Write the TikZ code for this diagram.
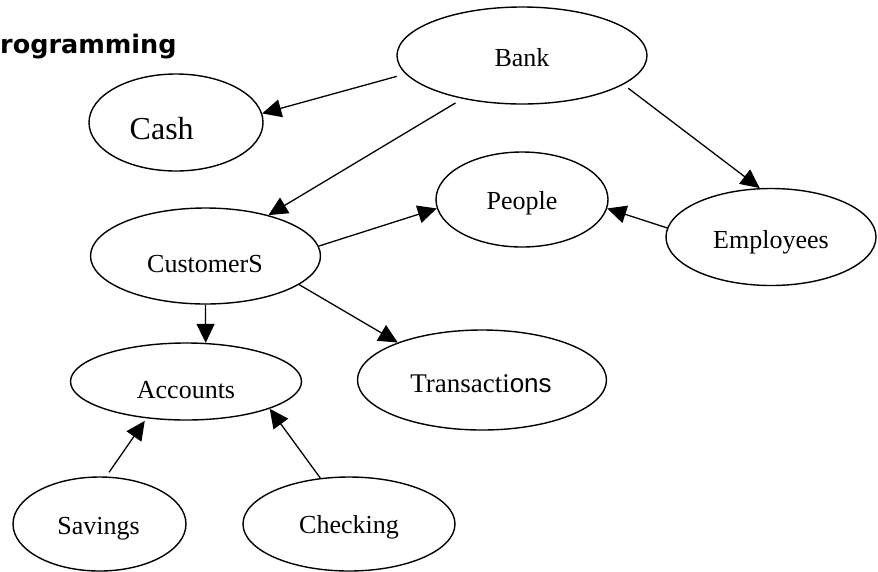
\documentclass[tikz,border=0pt]{standalone}
\usepackage{fontspec}
\setmainfont{Liberation Serif}
\newfontfamily\labelsans{Liberation Sans}
\newfontfamily\headfont{DejaVu Sans}
\usetikzlibrary{shapes.geometric,arrows.meta}

\begin{document}
\begin{tikzpicture}[x=1pt,y=-1pt,
  bubble/.style 2 args={ellipse,draw,line width=1.4pt,inner sep=0pt,
    minimum width=#1,minimum height=#2},
  word/.style={inner sep=0pt,anchor=base,font=\fontsize{26}{30}\selectfont},
  link/.style={line width=1.3pt,-{Triangle[length=19pt,width=18pt]}}]

\clip (0,0) rectangle (878,571);
\fill[white] (0,0) rectangle (878,571);

% heading at the top left
\node[inner sep=0pt,anchor=base west,font=\headfont\bfseries\fontsize{25.5}{30}\selectfont]
  (head) at (0,53.3) {rogramming};

% class bubbles
\node[bubble={250pt}{97pt}] (bank)  at (522,55.5)  {};
\node[bubble={174pt}{97pt}] (cash)  at (176,122.5) {};
\node[bubble={230pt}{96pt}] (cust)  at (205.5,256) {};
\node[bubble={172pt}{95pt}] (people) at (522,199.5) {};
\node[bubble={210pt}{97pt}] (emp)   at (771,237)   {};
\node[bubble={231pt}{77pt}] (acc)   at (186,381.5) {};
\node[bubble={249pt}{100pt}] (trans) at (482,380)  {};
\node[bubble={173pt}{94pt}] (sav)   at (99.5,524)  {};
\node[bubble={212pt}{94pt}] (check) at (349,524)   {};

% labels
\node[word] (bankT)   at (522,66.7)  {Bank};
\node[word,font=\fontsize{32}{36}\selectfont] (cashT) at (161.7,139) {Cash};
\node[word] (custT)   at (205,272.7) {CustomerS};
\node[word] (peopleT) at (522,209.3) {People};
\node[word] (empT)    at (771,248.3) {Employees};
\node[word] (accT)    at (186,398.3) {Accounts};
\node[word] (transT)  at (481,392.7)
  {\fontsize{27}{30}\selectfont Transacti\labelsans\fontsize{26}{30}\selectfont ons};
\node[word] (savT)    at (98.5,534)  {Savings};
\node[word] (checkT)  at (349,533)   {Checking};

% associations
\draw[link,shorten <=9pt] (bank.189) -- (cash.6);
\draw[link,shorten <=8pt] (bank.216) -- (cust.33);
\draw[link,shorten <=6pt] (bank.344) -- (emp.103);
\draw[link] (cust.5) -- (people.186);
\draw[link] (emp.175) -- (people.354);
\draw[link] (cust.south) -- (acc.63);
\draw[link] (cust.343) -- (trans.156);
\draw[link,shorten <=5pt,shorten >=3pt] (sav.82) -- (acc.223);
\draw[link] (check.122) -- (acc.342);
\end{tikzpicture}
\end{document}
